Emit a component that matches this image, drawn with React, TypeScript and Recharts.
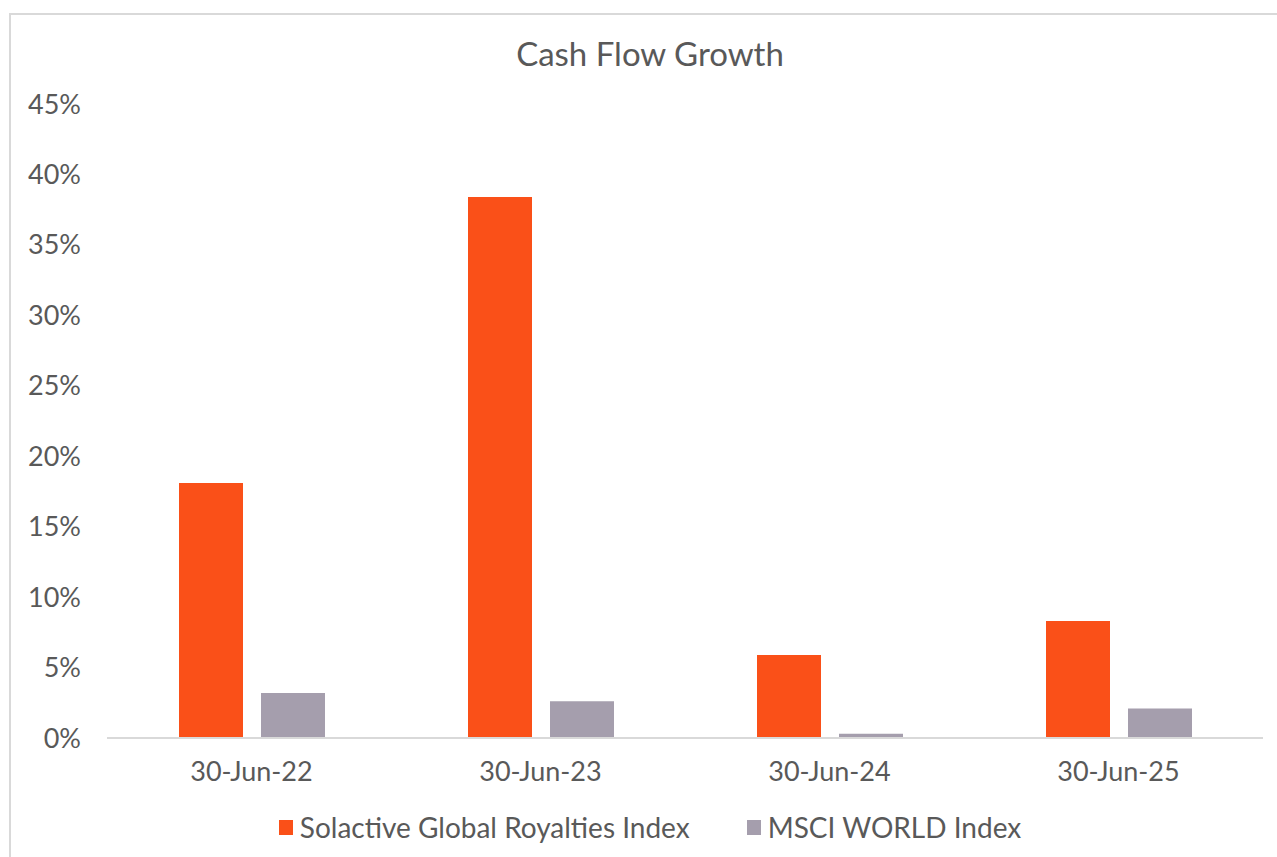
import React from 'react';
import { BarChart, Bar, XAxis, YAxis } from 'recharts';

const categories = ['30-Jun-22', '30-Jun-23', '30-Jun-24', '30-Jun-25'];
const solactive = [18.1, 38.4, 5.9, 8.3];
const msci = [3.2, 2.6, 0.3, 2.1];
const yTicks = [0, 5, 10, 15, 20, 25, 30, 35, 40, 45];
const seriesNames = ['Solactive Global Royalties Index', 'MSCI WORLD Index'];
const title = 'Cash Flow Growth';

const data = categories.map((c, i) => ({ name: c, solactive: solactive[i], msci: msci[i] }));

const FONT = 'Lato, "Noto Sans", sans-serif';
const TEXT = '#595959';
const ORANGE = '#FA5018';
const GRAY = '#A59EAD';
const seriesColors = [ORANGE, GRAY];

export default function App() {
  return (
    <div style={{ position: 'absolute', left: 0, top: 0, width: 1277, height: 857, overflow: 'hidden', background: '#fff' }}>
      <div style={{ position: 'absolute', left: 9, top: 13, width: 1300, height: 900, border: '2px solid #d9d9d9', boxSizing: 'border-box' }} />
      <div style={{ position: 'absolute', left: 0, top: 53, width: 1300, textAlign: 'center', fontFamily: FONT, fontSize: 33, color: TEXT, lineHeight: '0px' }}>
        {title}
      </div>
      <div style={{ position: 'absolute', left: 0, top: 0 }}>
        <BarChart
          width={1277}
          height={857}
          data={data}
          margin={{ top: 104, right: 14, bottom: 89, left: 7 }}
          barSize={64}
          barGap={18}
        >
          <XAxis
            dataKey="name"
            axisLine={{ stroke: '#d9d9d9', strokeWidth: 2 }}
            tickLine={false}
            tickSize={0}
            tickMargin={24}
            tick={{ fill: TEXT, fontSize: 27, fontFamily: FONT }}
            height={30}
          />
          <YAxis
            width={100}
            domain={[0, 45]}
            ticks={yTicks}
            axisLine={false}
            tickLine={false}
            tickSize={0}
            tickMargin={26}
            tickFormatter={(v: number) => `${v}%`}
            tick={{ fill: TEXT, fontSize: 27, fontFamily: FONT }}
          />
          <Bar dataKey="solactive" name={seriesNames[0]} fill={ORANGE} isAnimationActive={false} />
          <Bar dataKey="msci" name={seriesNames[1]} fill={GRAY} isAnimationActive={false} />
        </BarChart>
      </div>
      <div style={{ position: 'absolute', left: 0, top: 827, width: 1300, height: 0, display: 'flex', justifyContent: 'center', alignItems: 'center', fontFamily: FONT, fontSize: 28, color: TEXT }}>
        {seriesNames.map((n, i) => (
          <div key={n} style={{ display: 'flex', alignItems: 'center', marginRight: i === 0 ? 57 : 0 }}>
            <div style={{ width: 14, height: 15, background: seriesColors[i], marginRight: 7 }} />
            <span style={{ whiteSpace: 'nowrap' }}>{n}</span>
          </div>
        ))}
      </div>
    </div>
  );
}
